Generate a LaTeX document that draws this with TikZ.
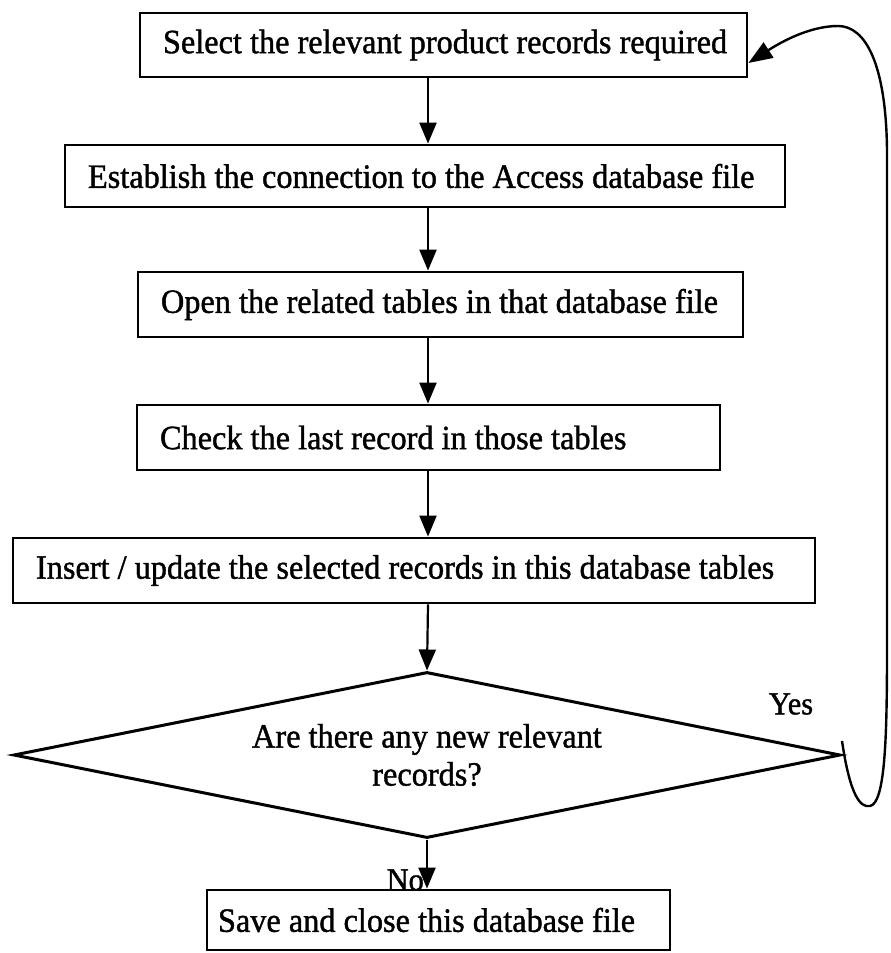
\documentclass[tikz,border=0pt]{standalone}
\usepackage{fontspec}
\setmainfont{Liberation Serif}[FakeStretch=0.95,FakeBold=1.2]
\usetikzlibrary{shapes.geometric,arrows.meta}
\newcommand\boxtxt[2]{\makebox[#1][l]{#2}}
\begin{document}
\begin{tikzpicture}[x=1pt,y=-1pt,
  every node/.style={font=\fontsize{34}{38}\selectfont},
  box/.style={draw, line width=2.8pt, rectangle, inner xsep=23pt, inner ysep=0pt, minimum height=64pt},
  dec/.style={draw, line width=3pt, diamond, aspect=5, inner sep=0pt, minimum width=827pt, minimum height=166pt, align=center},
  flow/.style={line width=2.2pt, -{Triangle[length=21pt,width=17pt]}},
  backarrow/.style={line width=2.4pt, -{Triangle[length=24pt,width=18pt]}},
  lbl/.style={font=\fontsize{32}{34}\selectfont, inner sep=0pt}
]
\useasboundingbox (0,0) rectangle (891,953);
\coordinate (sp) at (428,0);

\node[box] (b1) at (443.5,45) {\boxtxt{561pt}{Select the relevant product records required}};
\node[box, minimum height=62pt] (b2) at (425,176) {\boxtxt{674pt}{Establish the connection to the Access database file}};
\node[box, minimum height=65pt] (b3) at (440.5,304.5) {\boxtxt{559pt}{Open the related tables in that database file}};
\node[box, minimum height=65pt] (b4) at (428.5,437.5) {\boxtxt{537pt}{Check the last record in those tables}};
\node[box, minimum height=65pt] (b5) at (414,570.5) {\boxtxt{756pt}{Insert / update the selected records in this database tables}};
\node[dec] (d) at (427,755) {Are there any new relevant\\records?};
\node[box, inner xsep=11pt, minimum height=60pt] (b6) at (438.5,920) {\boxtxt{441pt}{Save and close this database file}};

\node[lbl] (yes) at (791,704) {Yes};
\node[lbl, anchor=east] (no) at (424,880) {No};

\draw[flow] (b1.south -| sp) -- (b2.north -| sp);
\draw[flow] (b2.south -| sp) -- (b3.north -| sp);
\draw[flow] (b3.south -| sp) -- (b4.north -| sp);
\draw[flow] (b4.south -| sp) -- (b5.north -| sp);
\draw[flow] (b5.south -| sp) -- (d.north);
\draw[flow] (d.south) -- (b6.north -| d.south);

\draw[backarrow] ([yshift=14pt]d.east) .. controls (850,795) and (860,808) .. (870,806)
  .. controls (885,803) and (887,740) .. (887,650) -- (887,150)
  .. controls (886,65) and (866,26) .. (838,26)
  .. controls (808,26) and (778,44) .. ([yshift=-18pt]b1.east);
\end{tikzpicture}
\end{document}
